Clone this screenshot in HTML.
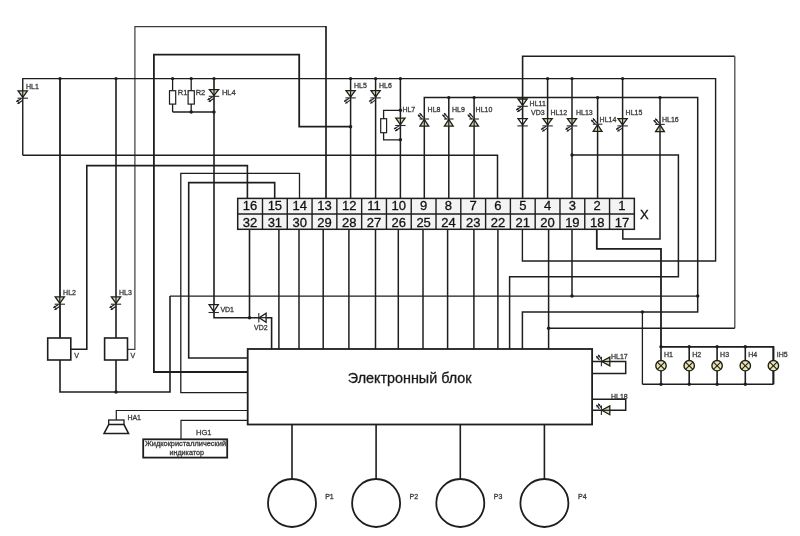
<!DOCTYPE html>
<html><head><meta charset="utf-8"><title>Схема</title>
<style>
html,body{margin:0;padding:0;background:#fff;}
body{width:800px;height:536px;overflow:hidden;}
svg{display:block;font-family:"Liberation Sans",sans-serif;}
svg{will-change:transform;}
</style></head>
<body>
<svg width="800" height="536" viewBox="0 0 800 536">
<rect x="0" y="0" width="800" height="536" fill="#fff"/>
<polyline points="127.50,349.30 134.90,349.30 134.90,26.60 326.00,26.60" fill="none" stroke="#3c3c3c" stroke-width="1.2"/>
<line x1="326.00" y1="26.00" x2="326.00" y2="198.40" stroke="#1e1e1e" stroke-width="1.7"/>
<polyline points="247.70,372.00 153.90,372.00 153.90,54.60 299.20,54.60 299.20,126.70 350.60,126.70" fill="none" stroke="#1e1e1e" stroke-width="1.8"/>
<circle cx="350.60" cy="126.70" r="1.7" fill="#1e1e1e"/>
<polyline points="22.75,155.20 22.75,78.60 715.60,78.60 715.60,261.00 522.40,261.00 522.40,229.30" fill="none" stroke="#1e1e1e" stroke-width="1.4"/>
<polyline points="22.75,155.20 497.50,155.20 497.50,198.40" fill="none" stroke="#1e1e1e" stroke-width="1.5"/>
<line x1="60.00" y1="78.60" x2="60.00" y2="338.00" stroke="#1e1e1e" stroke-width="1.8"/>
<line x1="116.00" y1="78.60" x2="116.00" y2="338.00" stroke="#1e1e1e" stroke-width="1.6"/>
<circle cx="60.00" cy="78.60" r="1.7" fill="#1e1e1e"/>
<circle cx="116.00" cy="78.60" r="1.7" fill="#1e1e1e"/>
<polyline points="60.00,360.00 60.00,392.00 170.00,392.00 170.00,296.00" fill="none" stroke="#1e1e1e" stroke-width="1.6"/>
<line x1="170.00" y1="296.00" x2="697.70" y2="296.00" stroke="#1e1e1e" stroke-width="1.25"/>
<line x1="116.00" y1="360.00" x2="116.00" y2="392.00" stroke="#1e1e1e" stroke-width="1.6"/>
<circle cx="116.00" cy="392.00" r="1.7" fill="#1e1e1e"/>
<circle cx="697.70" cy="296.00" r="1.7" fill="#1e1e1e"/>
<polyline points="70.80,349.30 86.80,349.30 86.80,165.60 247.40,165.60 247.40,198.40" fill="none" stroke="#1e1e1e" stroke-width="1.6"/>
<polyline points="247.70,392.70 180.80,392.70 180.80,173.40 299.50,173.40 299.50,198.40" fill="none" stroke="#1e1e1e" stroke-width="1.3"/>
<polyline points="247.70,358.00 188.70,358.00 188.70,182.60 274.70,182.60 274.70,198.40" fill="none" stroke="#1e1e1e" stroke-width="1.6"/>
<line x1="172.60" y1="78.60" x2="172.60" y2="90.70" stroke="#1e1e1e" stroke-width="1.3"/>
<rect x="169.50" y="90.7" width="6.2" height="13.4" fill="#fff" stroke="#1e1e1e" stroke-width="1.2"/>
<line x1="172.60" y1="104.10" x2="172.60" y2="112.00" stroke="#1e1e1e" stroke-width="1.3"/>
<circle cx="172.60" cy="78.60" r="1.7" fill="#1e1e1e"/>
<line x1="191.20" y1="78.60" x2="191.20" y2="90.70" stroke="#1e1e1e" stroke-width="1.3"/>
<rect x="188.10" y="90.7" width="6.2" height="13.4" fill="#fff" stroke="#1e1e1e" stroke-width="1.2"/>
<line x1="191.20" y1="104.10" x2="191.20" y2="112.00" stroke="#1e1e1e" stroke-width="1.3"/>
<circle cx="191.20" cy="78.60" r="1.7" fill="#1e1e1e"/>
<polyline points="172.60,112.00 214.00,112.00" fill="none" stroke="#1e1e1e" stroke-width="1.5"/>
<circle cx="191.20" cy="112.00" r="1.7" fill="#1e1e1e"/>
<circle cx="214.00" cy="112.00" r="1.7" fill="#1e1e1e"/>
<polyline points="214.00,78.60 214.00,317.70 271.60,317.70 271.60,349.00" fill="none" stroke="#1e1e1e" stroke-width="1.6"/>
<circle cx="214.00" cy="78.60" r="1.7" fill="#1e1e1e"/>
<line x1="249.50" y1="229.30" x2="249.50" y2="317.70" stroke="#1e1e1e" stroke-width="1.6"/>
<circle cx="249.50" cy="317.70" r="1.7" fill="#1e1e1e"/>
<line x1="350.60" y1="78.60" x2="350.60" y2="198.40" stroke="#1e1e1e" stroke-width="1.5"/>
<circle cx="350.60" cy="78.60" r="1.7" fill="#1e1e1e"/>
<line x1="375.60" y1="78.60" x2="375.60" y2="198.40" stroke="#1e1e1e" stroke-width="1.5"/>
<circle cx="375.60" cy="78.60" r="1.7" fill="#1e1e1e"/>
<line x1="400.40" y1="78.60" x2="400.40" y2="198.40" stroke="#1e1e1e" stroke-width="1.5"/>
<circle cx="400.40" cy="78.60" r="1.7" fill="#1e1e1e"/>
<polyline points="400.40,110.30 383.60,110.30 383.60,118.70" fill="none" stroke="#1e1e1e" stroke-width="1.3"/>
<rect x="380.7" y="118.7" width="5.9" height="14.0" fill="#fff" stroke="#1e1e1e" stroke-width="1.2"/>
<polyline points="383.60,132.70 383.60,139.80 400.40,139.80" fill="none" stroke="#1e1e1e" stroke-width="1.3"/>
<circle cx="400.40" cy="110.30" r="1.7" fill="#1e1e1e"/>
<circle cx="400.40" cy="139.80" r="1.7" fill="#1e1e1e"/>
<polyline points="424.30,198.40 424.30,97.60 697.70,97.60 697.70,311.90 522.40,311.90 522.40,349.00" fill="none" stroke="#1e1e1e" stroke-width="1.5"/>
<line x1="448.80" y1="97.60" x2="448.80" y2="198.40" stroke="#1e1e1e" stroke-width="1.5"/>
<circle cx="448.80" cy="97.60" r="1.7" fill="#1e1e1e"/>
<line x1="474.10" y1="97.60" x2="474.10" y2="198.40" stroke="#1e1e1e" stroke-width="1.5"/>
<circle cx="474.10" cy="97.60" r="1.7" fill="#1e1e1e"/>
<polyline points="522.60,198.40 522.60,56.20 734.80,56.20" fill="none" stroke="#1e1e1e" stroke-width="1.6"/>
<line x1="734.80" y1="56.20" x2="734.80" y2="328.20" stroke="#4a4a4a" stroke-width="1.3"/>
<line x1="734.80" y1="328.20" x2="548.60" y2="328.20" stroke="#1e1e1e" stroke-width="1.6"/>
<circle cx="548.60" cy="328.20" r="1.7" fill="#1e1e1e"/>
<line x1="547.60" y1="78.60" x2="547.60" y2="198.40" stroke="#1e1e1e" stroke-width="1.5"/>
<circle cx="547.60" cy="78.60" r="1.7" fill="#1e1e1e"/>
<line x1="572.00" y1="78.60" x2="572.00" y2="198.40" stroke="#1e1e1e" stroke-width="1.5"/>
<circle cx="572.00" cy="78.60" r="1.7" fill="#1e1e1e"/>
<line x1="622.60" y1="78.60" x2="622.60" y2="198.40" stroke="#1e1e1e" stroke-width="1.5"/>
<circle cx="622.60" cy="78.60" r="1.7" fill="#1e1e1e"/>
<line x1="597.60" y1="97.60" x2="597.60" y2="198.40" stroke="#1e1e1e" stroke-width="1.5"/>
<circle cx="597.60" cy="97.60" r="1.7" fill="#1e1e1e"/>
<polyline points="572.00,155.00 678.40,155.00 678.40,276.80 509.60,276.80 509.60,349.00" fill="none" stroke="#1e1e1e" stroke-width="1.5"/>
<circle cx="572.00" cy="155.00" r="1.7" fill="#1e1e1e"/>
<polyline points="660.00,97.60 660.00,238.90 622.80,238.90 622.80,229.30" fill="none" stroke="#1e1e1e" stroke-width="1.5"/>
<circle cx="660.00" cy="97.60" r="1.7" fill="#1e1e1e"/>
<polyline points="596.80,229.30 596.80,248.80 661.00,248.80 661.00,346.80 773.40,346.80 773.40,384.30" fill="none" stroke="#1e1e1e" stroke-width="1.8"/>
<polyline points="773.40,384.30 642.40,384.30" fill="none" stroke="#1e1e1e" stroke-width="1.6"/>
<polyline points="642.40,384.30 642.40,311.90" fill="none" stroke="#1e1e1e" stroke-width="1.3"/>
<circle cx="642.40" cy="311.90" r="1.7" fill="#1e1e1e"/>
<line x1="572.00" y1="229.30" x2="572.00" y2="296.00" stroke="#1e1e1e" stroke-width="1.5"/>
<circle cx="572.00" cy="296.00" r="1.7" fill="#1e1e1e"/>
<line x1="548.60" y1="229.30" x2="548.60" y2="349.00" stroke="#1e1e1e" stroke-width="1.5"/>
<line x1="497.90" y1="229.30" x2="497.90" y2="349.00" stroke="#1e1e1e" stroke-width="1.5"/>
<line x1="473.90" y1="229.30" x2="473.90" y2="349.00" stroke="#1e1e1e" stroke-width="1.5"/>
<line x1="447.60" y1="229.30" x2="447.60" y2="349.00" stroke="#1e1e1e" stroke-width="1.5"/>
<line x1="423.00" y1="229.30" x2="423.00" y2="349.00" stroke="#1e1e1e" stroke-width="1.5"/>
<line x1="398.30" y1="229.30" x2="398.30" y2="349.00" stroke="#1e1e1e" stroke-width="1.5"/>
<line x1="375.50" y1="229.30" x2="375.50" y2="349.00" stroke="#1e1e1e" stroke-width="1.5"/>
<line x1="348.90" y1="229.30" x2="348.90" y2="349.00" stroke="#1e1e1e" stroke-width="1.5"/>
<line x1="323.20" y1="229.30" x2="323.20" y2="349.00" stroke="#1e1e1e" stroke-width="1.5"/>
<line x1="299.00" y1="229.30" x2="299.00" y2="349.00" stroke="#1e1e1e" stroke-width="1.5"/>
<line x1="278.90" y1="229.30" x2="278.90" y2="349.00" stroke="#1e1e1e" stroke-width="1.5"/>
<line x1="661.00" y1="346.80" x2="661.00" y2="384.30" stroke="#1e1e1e" stroke-width="1.6"/>
<circle cx="661.00" cy="346.80" r="1.7" fill="#1e1e1e"/>
<circle cx="661.00" cy="384.30" r="1.7" fill="#1e1e1e"/>
<circle cx="661.0" cy="365.7" r="5.2" fill="#ede6aa" stroke="#1e1e1e" stroke-width="1.4"/>
<line x1="657.32" y1="362.02" x2="664.68" y2="369.38" stroke="#1e1e1e" stroke-width="1.1"/>
<line x1="657.32" y1="369.38" x2="664.68" y2="362.02" stroke="#1e1e1e" stroke-width="1.1"/>
<line x1="689.20" y1="346.80" x2="689.20" y2="384.30" stroke="#1e1e1e" stroke-width="1.6"/>
<circle cx="689.20" cy="346.80" r="1.7" fill="#1e1e1e"/>
<circle cx="689.20" cy="384.30" r="1.7" fill="#1e1e1e"/>
<circle cx="689.2" cy="365.7" r="5.2" fill="#ede6aa" stroke="#1e1e1e" stroke-width="1.4"/>
<line x1="685.52" y1="362.02" x2="692.88" y2="369.38" stroke="#1e1e1e" stroke-width="1.1"/>
<line x1="685.52" y1="369.38" x2="692.88" y2="362.02" stroke="#1e1e1e" stroke-width="1.1"/>
<line x1="717.10" y1="346.80" x2="717.10" y2="384.30" stroke="#1e1e1e" stroke-width="1.6"/>
<circle cx="717.10" cy="346.80" r="1.7" fill="#1e1e1e"/>
<circle cx="717.10" cy="384.30" r="1.7" fill="#1e1e1e"/>
<circle cx="717.1" cy="365.7" r="5.2" fill="#ede6aa" stroke="#1e1e1e" stroke-width="1.4"/>
<line x1="713.42" y1="362.02" x2="720.78" y2="369.38" stroke="#1e1e1e" stroke-width="1.1"/>
<line x1="713.42" y1="369.38" x2="720.78" y2="362.02" stroke="#1e1e1e" stroke-width="1.1"/>
<line x1="745.30" y1="346.80" x2="745.30" y2="384.30" stroke="#1e1e1e" stroke-width="1.6"/>
<circle cx="745.30" cy="346.80" r="1.7" fill="#1e1e1e"/>
<circle cx="745.30" cy="384.30" r="1.7" fill="#1e1e1e"/>
<circle cx="745.3" cy="365.7" r="5.2" fill="#ede6aa" stroke="#1e1e1e" stroke-width="1.4"/>
<line x1="741.62" y1="362.02" x2="748.98" y2="369.38" stroke="#1e1e1e" stroke-width="1.1"/>
<line x1="741.62" y1="369.38" x2="748.98" y2="362.02" stroke="#1e1e1e" stroke-width="1.1"/>
<line x1="773.40" y1="346.80" x2="773.40" y2="384.30" stroke="#1e1e1e" stroke-width="1.6"/>
<circle cx="773.4" cy="365.7" r="5.2" fill="#ede6aa" stroke="#1e1e1e" stroke-width="1.4"/>
<line x1="769.72" y1="362.02" x2="777.08" y2="369.38" stroke="#1e1e1e" stroke-width="1.1"/>
<line x1="769.72" y1="369.38" x2="777.08" y2="362.02" stroke="#1e1e1e" stroke-width="1.1"/>
<polyline points="592.10,361.50 625.70,361.50 625.70,373.60 592.10,373.60" fill="none" stroke="#1e1e1e" stroke-width="1.5"/>
<polyline points="592.10,399.20 625.70,399.20 625.70,410.30 592.10,410.30" fill="none" stroke="#1e1e1e" stroke-width="1.5"/>
<rect x="47.7" y="338.0" width="23.1" height="22.0" fill="#fff" stroke="#1e1e1e" stroke-width="1.6"/>
<rect x="104.6" y="338.0" width="22.9" height="22.0" fill="#fff" stroke="#1e1e1e" stroke-width="1.6"/>
<polyline points="247.70,410.50 116.30,410.50 116.30,420.00" fill="none" stroke="#1e1e1e" stroke-width="1.2"/>
<polyline points="247.70,420.40 181.00,420.40 181.00,439.30" fill="none" stroke="#1e1e1e" stroke-width="1.2"/>
<rect x="108.7" y="420.0" width="15.3" height="4.6" fill="#fff" stroke="#1e1e1e" stroke-width="1.3"/>
<polygon points="108.7,424.6 124.0,424.6 128.6,433.6 104.0,433.6" fill="#fff" stroke="#1e1e1e" stroke-width="1.5"/>
<rect x="143.2" y="439.3" width="84.0" height="18.3" fill="#fff" stroke="#1e1e1e" stroke-width="1.8"/>
<rect x="247.7" y="349.0" width="344.40" height="75.50" fill="#fff" stroke="#1e1e1e" stroke-width="1.8"/>
<text x="347.80" y="383.10" font-size="14" fill="#1a1a1a" stroke="#1a1a1a" stroke-width="0.3" textLength="123.8" lengthAdjust="spacingAndGlyphs">Электронный блок</text>
<line x1="292.00" y1="424.50" x2="292.00" y2="478.80" stroke="#1e1e1e" stroke-width="1.6"/>
<circle cx="292.0" cy="503.0" r="24.0" fill="none" stroke="#1e1e1e" stroke-width="1.8"/>
<line x1="376.10" y1="424.50" x2="376.10" y2="478.80" stroke="#1e1e1e" stroke-width="1.6"/>
<circle cx="376.1" cy="503.0" r="24.0" fill="none" stroke="#1e1e1e" stroke-width="1.8"/>
<line x1="460.30" y1="424.50" x2="460.30" y2="478.80" stroke="#1e1e1e" stroke-width="1.6"/>
<circle cx="460.3" cy="503.0" r="24.0" fill="none" stroke="#1e1e1e" stroke-width="1.8"/>
<line x1="544.40" y1="424.50" x2="544.40" y2="478.80" stroke="#1e1e1e" stroke-width="1.6"/>
<circle cx="544.4" cy="503.0" r="24.0" fill="none" stroke="#1e1e1e" stroke-width="1.8"/>
<rect x="237.7" y="198.4" width="396.64" height="30.90" fill="#f3f3f3" stroke="#1e1e1e" stroke-width="1.5"/>
<line x1="237.70" y1="214.00" x2="634.34" y2="214.00" stroke="#1e1e1e" stroke-width="1.5"/>
<line x1="262.49" y1="198.40" x2="262.49" y2="229.30" stroke="#1e1e1e" stroke-width="1.4"/>
<line x1="287.28" y1="198.40" x2="287.28" y2="229.30" stroke="#1e1e1e" stroke-width="1.4"/>
<line x1="312.07" y1="198.40" x2="312.07" y2="229.30" stroke="#1e1e1e" stroke-width="1.4"/>
<line x1="336.86" y1="198.40" x2="336.86" y2="229.30" stroke="#1e1e1e" stroke-width="1.4"/>
<line x1="361.65" y1="198.40" x2="361.65" y2="229.30" stroke="#1e1e1e" stroke-width="1.4"/>
<line x1="386.44" y1="198.40" x2="386.44" y2="229.30" stroke="#1e1e1e" stroke-width="1.4"/>
<line x1="411.23" y1="198.40" x2="411.23" y2="229.30" stroke="#1e1e1e" stroke-width="1.4"/>
<line x1="436.02" y1="198.40" x2="436.02" y2="229.30" stroke="#1e1e1e" stroke-width="1.4"/>
<line x1="460.81" y1="198.40" x2="460.81" y2="229.30" stroke="#1e1e1e" stroke-width="1.4"/>
<line x1="485.60" y1="198.40" x2="485.60" y2="229.30" stroke="#1e1e1e" stroke-width="1.4"/>
<line x1="510.39" y1="198.40" x2="510.39" y2="229.30" stroke="#1e1e1e" stroke-width="1.4"/>
<line x1="535.18" y1="198.40" x2="535.18" y2="229.30" stroke="#1e1e1e" stroke-width="1.4"/>
<line x1="559.97" y1="198.40" x2="559.97" y2="229.30" stroke="#1e1e1e" stroke-width="1.4"/>
<line x1="584.76" y1="198.40" x2="584.76" y2="229.30" stroke="#1e1e1e" stroke-width="1.4"/>
<line x1="609.55" y1="198.40" x2="609.55" y2="229.30" stroke="#1e1e1e" stroke-width="1.4"/>
<text x="250.09" y="210.00" font-size="13" fill="#111" stroke="#111" stroke-width="0.3" text-anchor="middle">16</text>
<text x="250.09" y="227.40" font-size="13" fill="#111" stroke="#111" stroke-width="0.3" text-anchor="middle">32</text>
<text x="274.88" y="210.00" font-size="13" fill="#111" stroke="#111" stroke-width="0.3" text-anchor="middle">15</text>
<text x="274.88" y="227.40" font-size="13" fill="#111" stroke="#111" stroke-width="0.3" text-anchor="middle">31</text>
<text x="299.67" y="210.00" font-size="13" fill="#111" stroke="#111" stroke-width="0.3" text-anchor="middle">14</text>
<text x="299.67" y="227.40" font-size="13" fill="#111" stroke="#111" stroke-width="0.3" text-anchor="middle">30</text>
<text x="324.46" y="210.00" font-size="13" fill="#111" stroke="#111" stroke-width="0.3" text-anchor="middle">13</text>
<text x="324.46" y="227.40" font-size="13" fill="#111" stroke="#111" stroke-width="0.3" text-anchor="middle">29</text>
<text x="349.25" y="210.00" font-size="13" fill="#111" stroke="#111" stroke-width="0.3" text-anchor="middle">12</text>
<text x="349.25" y="227.40" font-size="13" fill="#111" stroke="#111" stroke-width="0.3" text-anchor="middle">28</text>
<text x="374.04" y="210.00" font-size="13" fill="#111" stroke="#111" stroke-width="0.3" text-anchor="middle">11</text>
<text x="374.04" y="227.40" font-size="13" fill="#111" stroke="#111" stroke-width="0.3" text-anchor="middle">27</text>
<text x="398.83" y="210.00" font-size="13" fill="#111" stroke="#111" stroke-width="0.3" text-anchor="middle">10</text>
<text x="398.83" y="227.40" font-size="13" fill="#111" stroke="#111" stroke-width="0.3" text-anchor="middle">26</text>
<text x="423.62" y="210.00" font-size="13" fill="#111" stroke="#111" stroke-width="0.3" text-anchor="middle">9</text>
<text x="423.62" y="227.40" font-size="13" fill="#111" stroke="#111" stroke-width="0.3" text-anchor="middle">25</text>
<text x="448.41" y="210.00" font-size="13" fill="#111" stroke="#111" stroke-width="0.3" text-anchor="middle">8</text>
<text x="448.41" y="227.40" font-size="13" fill="#111" stroke="#111" stroke-width="0.3" text-anchor="middle">24</text>
<text x="473.20" y="210.00" font-size="13" fill="#111" stroke="#111" stroke-width="0.3" text-anchor="middle">7</text>
<text x="473.20" y="227.40" font-size="13" fill="#111" stroke="#111" stroke-width="0.3" text-anchor="middle">23</text>
<text x="497.99" y="210.00" font-size="13" fill="#111" stroke="#111" stroke-width="0.3" text-anchor="middle">6</text>
<text x="497.99" y="227.40" font-size="13" fill="#111" stroke="#111" stroke-width="0.3" text-anchor="middle">22</text>
<text x="522.78" y="210.00" font-size="13" fill="#111" stroke="#111" stroke-width="0.3" text-anchor="middle">5</text>
<text x="522.78" y="227.40" font-size="13" fill="#111" stroke="#111" stroke-width="0.3" text-anchor="middle">21</text>
<text x="547.58" y="210.00" font-size="13" fill="#111" stroke="#111" stroke-width="0.3" text-anchor="middle">4</text>
<text x="547.58" y="227.40" font-size="13" fill="#111" stroke="#111" stroke-width="0.3" text-anchor="middle">20</text>
<text x="572.37" y="210.00" font-size="13" fill="#111" stroke="#111" stroke-width="0.3" text-anchor="middle">3</text>
<text x="572.37" y="227.40" font-size="13" fill="#111" stroke="#111" stroke-width="0.3" text-anchor="middle">19</text>
<text x="597.15" y="210.00" font-size="13" fill="#111" stroke="#111" stroke-width="0.3" text-anchor="middle">2</text>
<text x="597.15" y="227.40" font-size="13" fill="#111" stroke="#111" stroke-width="0.3" text-anchor="middle">18</text>
<text x="621.94" y="210.00" font-size="13" fill="#111" stroke="#111" stroke-width="0.3" text-anchor="middle">1</text>
<text x="621.94" y="227.40" font-size="13" fill="#111" stroke="#111" stroke-width="0.3" text-anchor="middle">17</text>
<text x="640.00" y="219.30" font-size="13" fill="#111" stroke="#111" stroke-width="0.3">X</text>
<polygon points="18.15,90.90 27.35,90.90 22.75,97.30" fill="#dcdcae" stroke="#1e1e1e" stroke-width="1.3" stroke-linejoin="miter"/>
<line x1="22.75" y1="90.90" x2="22.75" y2="97.30" stroke="#1e1e1e" stroke-width="1.2"/>
<line x1="17.55" y1="98.20" x2="27.95" y2="98.20" stroke="#2a2a2a" stroke-width="1.1"/>
<line x1="22.54" y1="100.43" x2="17.49" y2="103.66" stroke="#1e1e1e" stroke-width="1.15"/>
<polygon points="17.49,103.66 18.70,101.46 19.99,103.49" fill="#1e1e1e"/>
<line x1="21.36" y1="98.57" x2="16.30" y2="101.81" stroke="#1e1e1e" stroke-width="1.15"/>
<polygon points="16.30,101.81 17.51,99.61 18.80,101.63" fill="#1e1e1e"/>
<polygon points="209.40,89.60 218.60,89.60 214.00,95.40" fill="#dcdcae" stroke="#1e1e1e" stroke-width="1.3" stroke-linejoin="miter"/>
<line x1="214.00" y1="89.60" x2="214.00" y2="95.40" stroke="#1e1e1e" stroke-width="1.2"/>
<line x1="208.80" y1="96.30" x2="219.20" y2="96.30" stroke="#2a2a2a" stroke-width="1.1"/>
<line x1="213.79" y1="98.53" x2="208.74" y2="101.76" stroke="#1e1e1e" stroke-width="1.15"/>
<polygon points="208.74,101.76 209.95,99.56 211.24,101.59" fill="#1e1e1e"/>
<line x1="212.61" y1="96.67" x2="207.55" y2="99.91" stroke="#1e1e1e" stroke-width="1.15"/>
<polygon points="207.55,99.91 208.76,97.71 210.05,99.73" fill="#1e1e1e"/>
<polygon points="346.00,90.60 355.20,90.60 350.60,97.00" fill="#dcdcae" stroke="#1e1e1e" stroke-width="1.3" stroke-linejoin="miter"/>
<line x1="350.60" y1="90.60" x2="350.60" y2="97.00" stroke="#1e1e1e" stroke-width="1.2"/>
<line x1="345.40" y1="97.90" x2="355.80" y2="97.90" stroke="#2a2a2a" stroke-width="1.1"/>
<line x1="350.39" y1="100.13" x2="345.34" y2="103.36" stroke="#1e1e1e" stroke-width="1.15"/>
<polygon points="345.34,103.36 346.55,101.16 347.84,103.19" fill="#1e1e1e"/>
<line x1="349.21" y1="98.27" x2="344.15" y2="101.51" stroke="#1e1e1e" stroke-width="1.15"/>
<polygon points="344.15,101.51 345.36,99.31 346.65,101.33" fill="#1e1e1e"/>
<polygon points="371.00,90.60 380.20,90.60 375.60,97.00" fill="#dcdcae" stroke="#1e1e1e" stroke-width="1.3" stroke-linejoin="miter"/>
<line x1="375.60" y1="90.60" x2="375.60" y2="97.00" stroke="#1e1e1e" stroke-width="1.2"/>
<line x1="370.40" y1="97.90" x2="380.80" y2="97.90" stroke="#2a2a2a" stroke-width="1.1"/>
<line x1="375.39" y1="100.13" x2="370.34" y2="103.36" stroke="#1e1e1e" stroke-width="1.15"/>
<polygon points="370.34,103.36 371.55,101.16 372.84,103.19" fill="#1e1e1e"/>
<line x1="374.21" y1="98.27" x2="369.15" y2="101.51" stroke="#1e1e1e" stroke-width="1.15"/>
<polygon points="369.15,101.51 370.36,99.31 371.65,101.33" fill="#1e1e1e"/>
<polygon points="395.80,118.20 405.00,118.20 400.40,124.60" fill="#dcdcae" stroke="#1e1e1e" stroke-width="1.3" stroke-linejoin="miter"/>
<line x1="400.40" y1="118.20" x2="400.40" y2="124.60" stroke="#1e1e1e" stroke-width="1.2"/>
<line x1="395.20" y1="125.50" x2="405.60" y2="125.50" stroke="#2a2a2a" stroke-width="1.1"/>
<line x1="400.19" y1="127.73" x2="395.14" y2="130.96" stroke="#1e1e1e" stroke-width="1.15"/>
<polygon points="395.14,130.96 396.35,128.76 397.64,130.79" fill="#1e1e1e"/>
<line x1="399.01" y1="125.87" x2="393.95" y2="129.11" stroke="#1e1e1e" stroke-width="1.15"/>
<polygon points="393.95,129.11 395.16,126.91 396.45,128.93" fill="#1e1e1e"/>
<polygon points="419.90,126.20 428.70,126.20 424.30,119.40" fill="#dcdcae" stroke="#1e1e1e" stroke-width="1.3"/>
<line x1="424.30" y1="126.20" x2="424.30" y2="119.40" stroke="#1e1e1e" stroke-width="1.2"/>
<line x1="419.50" y1="119.00" x2="429.10" y2="119.00" stroke="#2a2a2a" stroke-width="1.1"/>
<line x1="421.98" y1="119.14" x2="417.97" y2="114.68" stroke="#1e1e1e" stroke-width="1.15"/>
<polygon points="417.97,114.68 420.33,115.51 418.55,117.11" fill="#1e1e1e"/>
<line x1="423.62" y1="117.66" x2="419.60" y2="113.20" stroke="#1e1e1e" stroke-width="1.15"/>
<polygon points="419.60,113.20 421.97,114.04 420.18,115.64" fill="#1e1e1e"/>
<polygon points="444.40,126.20 453.20,126.20 448.80,119.40" fill="#dcdcae" stroke="#1e1e1e" stroke-width="1.3"/>
<line x1="448.80" y1="126.20" x2="448.80" y2="119.40" stroke="#1e1e1e" stroke-width="1.2"/>
<line x1="444.00" y1="119.00" x2="453.60" y2="119.00" stroke="#2a2a2a" stroke-width="1.1"/>
<line x1="446.48" y1="119.14" x2="442.47" y2="114.68" stroke="#1e1e1e" stroke-width="1.15"/>
<polygon points="442.47,114.68 444.83,115.51 443.05,117.11" fill="#1e1e1e"/>
<line x1="448.12" y1="117.66" x2="444.10" y2="113.20" stroke="#1e1e1e" stroke-width="1.15"/>
<polygon points="444.10,113.20 446.47,114.04 444.68,115.64" fill="#1e1e1e"/>
<polygon points="469.70,126.20 478.50,126.20 474.10,119.40" fill="#dcdcae" stroke="#1e1e1e" stroke-width="1.3"/>
<line x1="474.10" y1="126.20" x2="474.10" y2="119.40" stroke="#1e1e1e" stroke-width="1.2"/>
<line x1="469.30" y1="119.00" x2="478.90" y2="119.00" stroke="#2a2a2a" stroke-width="1.1"/>
<line x1="471.78" y1="119.14" x2="467.77" y2="114.68" stroke="#1e1e1e" stroke-width="1.15"/>
<polygon points="467.77,114.68 470.13,115.51 468.35,117.11" fill="#1e1e1e"/>
<line x1="473.42" y1="117.66" x2="469.40" y2="113.20" stroke="#1e1e1e" stroke-width="1.15"/>
<polygon points="469.40,113.20 471.77,114.04 469.98,115.64" fill="#1e1e1e"/>
<polygon points="518.00,99.00 527.20,99.00 522.60,105.40" fill="#dcdcae" stroke="#1e1e1e" stroke-width="1.3" stroke-linejoin="miter"/>
<line x1="522.60" y1="99.00" x2="522.60" y2="105.40" stroke="#1e1e1e" stroke-width="1.2"/>
<line x1="517.40" y1="106.30" x2="527.80" y2="106.30" stroke="#2a2a2a" stroke-width="1.1"/>
<line x1="522.39" y1="108.53" x2="517.34" y2="111.76" stroke="#1e1e1e" stroke-width="1.15"/>
<polygon points="517.34,111.76 518.55,109.56 519.84,111.59" fill="#1e1e1e"/>
<line x1="521.21" y1="106.67" x2="516.15" y2="109.91" stroke="#1e1e1e" stroke-width="1.15"/>
<polygon points="516.15,109.91 517.36,107.71 518.65,109.73" fill="#1e1e1e"/>
<polygon points="518.00,118.60 527.20,118.60 522.60,125.00" fill="#fff" stroke="#1e1e1e" stroke-width="1.3" stroke-linejoin="miter"/>
<line x1="522.60" y1="118.60" x2="522.60" y2="125.00" stroke="#1e1e1e" stroke-width="1.2"/>
<line x1="517.40" y1="125.90" x2="527.80" y2="125.90" stroke="#2a2a2a" stroke-width="1.1"/>
<polygon points="543.00,118.60 552.20,118.60 547.60,125.00" fill="#dcdcae" stroke="#1e1e1e" stroke-width="1.3" stroke-linejoin="miter"/>
<line x1="547.60" y1="118.60" x2="547.60" y2="125.00" stroke="#1e1e1e" stroke-width="1.2"/>
<line x1="542.40" y1="125.90" x2="552.80" y2="125.90" stroke="#2a2a2a" stroke-width="1.1"/>
<line x1="547.39" y1="128.13" x2="542.34" y2="131.36" stroke="#1e1e1e" stroke-width="1.15"/>
<polygon points="542.34,131.36 543.55,129.16 544.84,131.19" fill="#1e1e1e"/>
<line x1="546.21" y1="126.27" x2="541.15" y2="129.51" stroke="#1e1e1e" stroke-width="1.15"/>
<polygon points="541.15,129.51 542.36,127.31 543.65,129.33" fill="#1e1e1e"/>
<polygon points="567.40,118.60 576.60,118.60 572.00,125.00" fill="#dcdcae" stroke="#1e1e1e" stroke-width="1.3" stroke-linejoin="miter"/>
<line x1="572.00" y1="118.60" x2="572.00" y2="125.00" stroke="#1e1e1e" stroke-width="1.2"/>
<line x1="566.80" y1="125.90" x2="577.20" y2="125.90" stroke="#2a2a2a" stroke-width="1.1"/>
<line x1="571.79" y1="128.13" x2="566.74" y2="131.36" stroke="#1e1e1e" stroke-width="1.15"/>
<polygon points="566.74,131.36 567.95,129.16 569.24,131.19" fill="#1e1e1e"/>
<line x1="570.61" y1="126.27" x2="565.55" y2="129.51" stroke="#1e1e1e" stroke-width="1.15"/>
<polygon points="565.55,129.51 566.76,127.31 568.05,129.33" fill="#1e1e1e"/>
<polygon points="593.20,131.40 602.00,131.40 597.60,124.60" fill="#dcdcae" stroke="#1e1e1e" stroke-width="1.3"/>
<line x1="597.60" y1="131.40" x2="597.60" y2="124.60" stroke="#1e1e1e" stroke-width="1.2"/>
<line x1="592.80" y1="124.20" x2="602.40" y2="124.20" stroke="#2a2a2a" stroke-width="1.1"/>
<line x1="595.28" y1="124.34" x2="591.27" y2="119.88" stroke="#1e1e1e" stroke-width="1.15"/>
<polygon points="591.27,119.88 593.63,120.71 591.85,122.31" fill="#1e1e1e"/>
<line x1="596.92" y1="122.86" x2="592.90" y2="118.40" stroke="#1e1e1e" stroke-width="1.15"/>
<polygon points="592.90,118.40 595.27,119.24 593.48,120.84" fill="#1e1e1e"/>
<polygon points="618.00,118.60 627.20,118.60 622.60,125.00" fill="#dcdcae" stroke="#1e1e1e" stroke-width="1.3" stroke-linejoin="miter"/>
<line x1="622.60" y1="118.60" x2="622.60" y2="125.00" stroke="#1e1e1e" stroke-width="1.2"/>
<line x1="617.40" y1="125.90" x2="627.80" y2="125.90" stroke="#2a2a2a" stroke-width="1.1"/>
<line x1="622.39" y1="128.13" x2="617.34" y2="131.36" stroke="#1e1e1e" stroke-width="1.15"/>
<polygon points="617.34,131.36 618.55,129.16 619.84,131.19" fill="#1e1e1e"/>
<line x1="621.21" y1="126.27" x2="616.15" y2="129.51" stroke="#1e1e1e" stroke-width="1.15"/>
<polygon points="616.15,129.51 617.36,127.31 618.65,129.33" fill="#1e1e1e"/>
<polygon points="655.60,131.60 664.40,131.60 660.00,124.80" fill="#dcdcae" stroke="#1e1e1e" stroke-width="1.3"/>
<line x1="660.00" y1="131.60" x2="660.00" y2="124.80" stroke="#1e1e1e" stroke-width="1.2"/>
<line x1="655.20" y1="124.40" x2="664.80" y2="124.40" stroke="#2a2a2a" stroke-width="1.1"/>
<line x1="657.68" y1="124.54" x2="653.67" y2="120.08" stroke="#1e1e1e" stroke-width="1.15"/>
<polygon points="653.67,120.08 656.03,120.91 654.25,122.51" fill="#1e1e1e"/>
<line x1="659.32" y1="123.06" x2="655.30" y2="118.60" stroke="#1e1e1e" stroke-width="1.15"/>
<polygon points="655.30,118.60 657.67,119.44 655.88,121.04" fill="#1e1e1e"/>
<polygon points="55.20,296.90 64.40,296.90 59.80,303.30" fill="#dcdcae" stroke="#1e1e1e" stroke-width="1.3" stroke-linejoin="miter"/>
<line x1="59.80" y1="296.90" x2="59.80" y2="303.30" stroke="#1e1e1e" stroke-width="1.2"/>
<line x1="54.60" y1="304.20" x2="65.00" y2="304.20" stroke="#2a2a2a" stroke-width="1.1"/>
<line x1="59.59" y1="306.43" x2="54.54" y2="309.66" stroke="#1e1e1e" stroke-width="1.15"/>
<polygon points="54.54,309.66 55.75,307.46 57.04,309.49" fill="#1e1e1e"/>
<line x1="58.41" y1="304.57" x2="53.35" y2="307.81" stroke="#1e1e1e" stroke-width="1.15"/>
<polygon points="53.35,307.81 54.56,305.61 55.85,307.63" fill="#1e1e1e"/>
<polygon points="111.40,296.90 120.60,296.90 116.00,303.30" fill="#dcdcae" stroke="#1e1e1e" stroke-width="1.3" stroke-linejoin="miter"/>
<line x1="116.00" y1="296.90" x2="116.00" y2="303.30" stroke="#1e1e1e" stroke-width="1.2"/>
<line x1="110.80" y1="304.20" x2="121.20" y2="304.20" stroke="#2a2a2a" stroke-width="1.1"/>
<line x1="115.79" y1="306.43" x2="110.74" y2="309.66" stroke="#1e1e1e" stroke-width="1.15"/>
<polygon points="110.74,309.66 111.95,307.46 113.24,309.49" fill="#1e1e1e"/>
<line x1="114.61" y1="304.57" x2="109.55" y2="307.81" stroke="#1e1e1e" stroke-width="1.15"/>
<polygon points="109.55,307.81 110.76,305.61 112.05,307.63" fill="#1e1e1e"/>
<polygon points="209.10,304.60 218.30,304.60 213.70,311.60" fill="#fff" stroke="#1e1e1e" stroke-width="1.3" stroke-linejoin="miter"/>
<line x1="213.70" y1="304.60" x2="213.70" y2="311.60" stroke="#1e1e1e" stroke-width="1.2"/>
<line x1="208.50" y1="312.50" x2="218.90" y2="312.50" stroke="#2a2a2a" stroke-width="1.1"/>
<polygon points="266.10,313.20 266.10,322.20 259.20,317.70" fill="#fff" stroke="#1e1e1e" stroke-width="1.3"/>
<line x1="259.20" y1="317.70" x2="266.10" y2="317.70" stroke="#1e1e1e" stroke-width="1.2"/>
<line x1="258.80" y1="312.90" x2="258.80" y2="322.50" stroke="#2a2a2a" stroke-width="1.1"/>
<polygon points="609.80,357.10 609.80,365.90 601.80,361.50" fill="#dcdcae" stroke="#1e1e1e" stroke-width="1.3"/>
<line x1="601.80" y1="361.50" x2="609.80" y2="361.50" stroke="#1e1e1e" stroke-width="1.2"/>
<line x1="601.40" y1="356.70" x2="601.40" y2="366.30" stroke="#2a2a2a" stroke-width="1.1"/>
<line x1="599.42" y1="360.16" x2="596.42" y2="356.16" stroke="#1e1e1e" stroke-width="1.15"/>
<polygon points="596.42,356.16 598.70,357.20 596.78,358.64" fill="#1e1e1e"/>
<line x1="601.18" y1="358.84" x2="598.18" y2="354.84" stroke="#1e1e1e" stroke-width="1.15"/>
<polygon points="598.18,354.84 600.46,355.88 598.54,357.32" fill="#1e1e1e"/>
<polygon points="609.80,405.90 609.80,414.70 601.80,410.30" fill="#dcdcae" stroke="#1e1e1e" stroke-width="1.3"/>
<line x1="601.80" y1="410.30" x2="609.80" y2="410.30" stroke="#1e1e1e" stroke-width="1.2"/>
<line x1="601.40" y1="405.50" x2="601.40" y2="415.10" stroke="#2a2a2a" stroke-width="1.1"/>
<line x1="599.42" y1="408.96" x2="596.42" y2="404.96" stroke="#1e1e1e" stroke-width="1.15"/>
<polygon points="596.42,404.96 598.70,406.00 596.78,407.44" fill="#1e1e1e"/>
<line x1="601.18" y1="407.64" x2="598.18" y2="403.64" stroke="#1e1e1e" stroke-width="1.15"/>
<polygon points="598.18,403.64 600.46,404.68 598.54,406.12" fill="#1e1e1e"/>
<text x="26.00" y="88.50" font-size="7" fill="#3c3c3c" stroke="#3c3c3c" stroke-width="0.3">HL1</text>
<text x="63.10" y="294.60" font-size="7" fill="#3c3c3c" stroke="#3c3c3c" stroke-width="0.3">HL2</text>
<text x="119.00" y="294.60" font-size="7" fill="#3c3c3c" stroke="#3c3c3c" stroke-width="0.3">HL3</text>
<text x="177.80" y="94.70" font-size="7.5" fill="#3c3c3c" stroke="#3c3c3c" stroke-width="0.3">R1</text>
<text x="195.70" y="94.70" font-size="7.5" fill="#3c3c3c" stroke="#3c3c3c" stroke-width="0.3">R2</text>
<text x="221.90" y="94.70" font-size="7.5" fill="#3c3c3c" stroke="#3c3c3c" stroke-width="0.3">HL4</text>
<text x="354.00" y="88.10" font-size="7" fill="#3c3c3c" stroke="#3c3c3c" stroke-width="0.3">HL5</text>
<text x="379.00" y="88.10" font-size="7" fill="#3c3c3c" stroke="#3c3c3c" stroke-width="0.3">HL6</text>
<text x="402.40" y="112.20" font-size="7" fill="#3c3c3c" stroke="#3c3c3c" stroke-width="0.3">HL7</text>
<text x="427.60" y="112.20" font-size="7" fill="#3c3c3c" stroke="#3c3c3c" stroke-width="0.3">HL8</text>
<text x="452.00" y="112.20" font-size="7" fill="#3c3c3c" stroke="#3c3c3c" stroke-width="0.3">HL9</text>
<text x="475.60" y="112.20" font-size="7" fill="#3c3c3c" stroke="#3c3c3c" stroke-width="0.3">HL10</text>
<text x="529.60" y="105.50" font-size="7" fill="#3c3c3c" stroke="#3c3c3c" stroke-width="0.3">HL11</text>
<text x="531.00" y="114.90" font-size="7" fill="#3c3c3c" stroke="#3c3c3c" stroke-width="0.3">VD3</text>
<text x="550.40" y="114.90" font-size="7" fill="#3c3c3c" stroke="#3c3c3c" stroke-width="0.3">HL12</text>
<text x="576.00" y="114.90" font-size="7" fill="#3c3c3c" stroke="#3c3c3c" stroke-width="0.3">HL13</text>
<text x="599.60" y="122.10" font-size="7" fill="#3c3c3c" stroke="#3c3c3c" stroke-width="0.3">HL14</text>
<text x="625.60" y="114.50" font-size="7" fill="#3c3c3c" stroke="#3c3c3c" stroke-width="0.3">HL15</text>
<text x="662.00" y="122.10" font-size="7" fill="#3c3c3c" stroke="#3c3c3c" stroke-width="0.3">HL16</text>
<text x="220.40" y="311.70" font-size="7" fill="#3c3c3c" stroke="#3c3c3c" stroke-width="0.3">VD1</text>
<text x="254.00" y="330.30" font-size="7" fill="#3c3c3c" stroke="#3c3c3c" stroke-width="0.3">VD2</text>
<text x="611.00" y="358.80" font-size="7" fill="#3c3c3c" stroke="#3c3c3c" stroke-width="0.3">HL17</text>
<text x="611.00" y="398.80" font-size="7" fill="#3c3c3c" stroke="#3c3c3c" stroke-width="0.3">HL18</text>
<text x="664.00" y="356.90" font-size="7" fill="#3c3c3c" stroke="#3c3c3c" stroke-width="0.3">H1</text>
<text x="692.20" y="356.90" font-size="7" fill="#3c3c3c" stroke="#3c3c3c" stroke-width="0.3">H2</text>
<text x="720.10" y="356.90" font-size="7" fill="#3c3c3c" stroke="#3c3c3c" stroke-width="0.3">H3</text>
<text x="748.30" y="356.90" font-size="7" fill="#3c3c3c" stroke="#3c3c3c" stroke-width="0.3">H4</text>
<text x="776.80" y="356.90" font-size="7" fill="#3c3c3c" stroke="#3c3c3c" stroke-width="0.3">IH5</text>
<text x="127.40" y="420.10" font-size="7" fill="#3c3c3c" stroke="#3c3c3c" stroke-width="0.3">HA1</text>
<text x="196.00" y="434.80" font-size="7.5" fill="#3c3c3c" stroke="#3c3c3c" stroke-width="0.3">HG1</text>
<text x="325.20" y="499.00" font-size="7" fill="#3c3c3c" stroke="#3c3c3c" stroke-width="0.3">P1</text>
<text x="409.60" y="499.00" font-size="7" fill="#3c3c3c" stroke="#3c3c3c" stroke-width="0.3">P2</text>
<text x="493.80" y="499.00" font-size="7" fill="#3c3c3c" stroke="#3c3c3c" stroke-width="0.3">P3</text>
<text x="578.00" y="499.00" font-size="7" fill="#3c3c3c" stroke="#3c3c3c" stroke-width="0.3">P4</text>
<text x="74.20" y="357.50" font-size="7" fill="#3c3c3c" stroke="#3c3c3c" stroke-width="0.3">V</text>
<text x="130.60" y="357.50" font-size="7" fill="#3c3c3c" stroke="#3c3c3c" stroke-width="0.3">V</text>
<text x="145.00" y="446.00" font-size="6.5" fill="#3c3c3c" stroke="#3c3c3c" stroke-width="0.3" textLength="81" lengthAdjust="spacingAndGlyphs">Жидкокристаллический</text>
<text x="169.40" y="454.60" font-size="6.5" fill="#3c3c3c" stroke="#3c3c3c" stroke-width="0.3" textLength="34.6" lengthAdjust="spacingAndGlyphs">индикатор</text>
</svg>
</body></html>
